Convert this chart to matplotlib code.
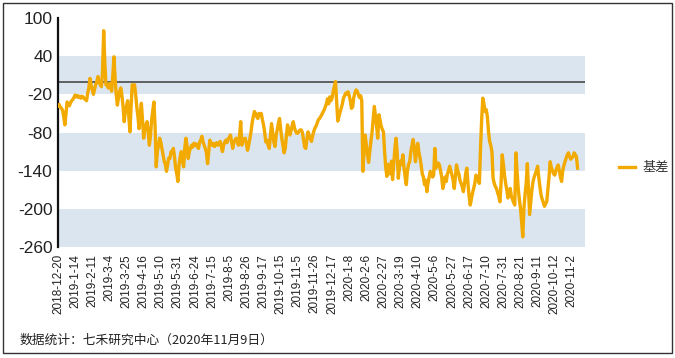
import matplotlib
matplotlib.use("Agg")
import matplotlib.pyplot as plt
from matplotlib.patches import Rectangle

plt.rcParams['font.family'] = ['Liberation Sans', 'Noto Sans CJK SC', 'DejaVu Sans']

tick_labels = ["2018-12-20", "2019-1-14", "2019-2-11", "2019-3-4", "2019-3-25", "2019-4-16",
               "2019-5-10", "2019-5-31", "2019-6-24", "2019-7-15", "2019-8-5", "2019-8-26",
               "2019-9-17", "2019-10-15", "2019-11-5", "2019-11-26", "2019-12-17", "2020-1-8",
               "2020-2-6", "2020-2-27", "2020-3-19", "2020-4-10", "2020-5-6", "2020-5-27",
               "2020-6-17", "2020-7-10", "2020-7-31", "2020-8-21", "2020-9-11", "2020-10-12",
               "2020-11-2"]
tick_step = 15

basis = [
    -38, -36, -40, -42, -45, -55, -68, -50, -32, -36, -38, -33, -30, -28, -25,
    -21, -24, -22, -25, -23, -26, -23, -24, -27, -28, -30, -18, -10, 5, -6,
    -12, -20, -12, -5, 0, 8, -2, -4, -8, 15, 80, 30, -5, -5, -10,
    -3, -8, -15, 10, 39, 5, -20, -37, -25, -15, -10, -22, -40, -63, -45,
    -38, -30, -55, -79, -40, -5, -10, -5, -20, -40, -55, -74, -50, -34, -60,
    -89, -75, -68, -63, -80, -100, -85, -60, -45, -32, -70, -134, -110, -100, -89,
    -95, -105, -115, -125, -130, -141, -130, -120, -121, -110, -112, -105, -118, -136, -145,
    -157, -130, -118, -110, -125, -134, -105, -89, -100, -121, -110, -105, -100, -103, -97,
    -100, -98, -102, -105, -95, -92, -86, -95, -100, -105, -112, -129, -110, -92, -98,
    -100, -97, -102, -99, -96, -100, -98, -94, -102, -110, -100, -95, -92, -96, -90,
    -88, -84, -95, -105, -96, -92, -89, -94, -100, -85, -63, -100, -92, -90, -89,
    -98, -108, -100, -90, -79, -65, -55, -47, -50, -55, -58, -50, -52, -50, -60,
    -68, -80, -95, -92, -100, -105, -85, -66, -80, -95, -102, -85, -76, -65, -58,
    -75, -89, -100, -112, -105, -85, -68, -75, -84, -78, -70, -63, -72, -78, -81,
    -81, -78, -76, -76, -80, -92, -103, -105, -90, -79, -85, -90, -94, -85, -78,
    -73, -70, -65, -60, -58, -55, -52, -48, -45, -40, -35, -27, -35, -24, -30,
    -26, -15, -8, 0, -30, -62, -55, -48, -42, -35, -26, -22, -18, -20, -16,
    -22, -30, -42, -40, -25, -18, -13, -15, -20, -25, -22, -30, -141, -110, -84,
    -100, -115, -127, -110, -94, -80, -60, -39, -55, -70, -89, -52, -60, -70, -75,
    -79, -110, -135, -149, -130, -141, -145, -125, -154, -130, -105, -89, -110, -152, -135,
    -125, -130, -115, -135, -150, -162, -140, -130, -126, -110, -100, -91, -105, -126, -110,
    -97, -110, -120, -131, -145, -150, -162, -155, -173, -160, -150, -141, -145, -150, -147,
    -105, -136, -130, -128, -131, -140, -150, -168, -160, -150, -157, -145, -140, -133, -140,
    -147, -155, -168, -150, -131, -140, -145, -155, -160, -165, -173, -160, -145, -136, -160,
    -180, -194, -185, -175, -168, -160, -147, -150, -155, -160, -105, -60, -26, -35, -47,
    -44, -55, -79, -94, -100, -110, -152, -160, -165, -168, -175, -180, -189, -160, -115,
    -130, -147, -160, -170, -183, -175, -168, -180, -185, -190, -194, -112, -140, -168, -185,
    -199, -220, -244, -200, -178, -160, -129, -170, -209, -190, -170, -157, -150, -145, -140,
    -133, -150, -165, -178, -185, -190, -196, -192, -189, -170, -150, -126, -135, -140, -145,
    -147, -140, -135, -131, -140, -150, -157, -140, -132, -126, -120, -115, -112, -118, -122,
    -120, -118, -112, -115, -118, -136,
]

y_ticks = [100, 40, -20, -80, -140, -200, -260]
bands = [(40, -20), (-80, -140), (-200, -260)]
series_name = "基差"
footer = "数据统计：七禾研究中心（2020年11月9日）"

W, H = 675, 358
fig = plt.figure(figsize=(W / 100, H / 100), dpi=100)
ax = fig.add_axes([58 / W, 1 - 247 / H, (585 - 58) / W, (247 - 18) / H])

for top, bot in bands:
    ax.axhspan(bot, top, color='#DAE5F0', lw=0, zorder=0)
ax.axhline(0, color='#555555', lw=1.3, zorder=1)

x = list(range(len(basis)))
ln, = ax.plot(x, basis, color='#F2A900', lw=2.4, zorder=3, label=series_name)

ax.set_xlim(0, 461.5)
ax.set_ylim(-260, 100)
ax.set_yticks(y_ticks)
ax.set_yticklabels([str(v) for v in y_ticks], fontsize=12.5, color='#222222')
ax.set_xticks([i * tick_step for i in range(len(tick_labels))])
ax.set_xticklabels(tick_labels, rotation=90, fontsize=8.5, color='#222222')
ax.tick_params(axis='both', length=0)
ax.tick_params(axis='y', pad=4)
ax.tick_params(axis='x', pad=5)
for s in ['top', 'right', 'bottom']:
    ax.spines[s].set_visible(False)
ax.spines['left'].set_linewidth(1.6)
ax.spines['left'].set_color('#111111')

leg = fig.legend(handles=[ln], loc='center left', bbox_to_anchor=(619 / W, 1 - 168 / H),
                 frameon=False, handlelength=1.2, handletextpad=0.6, borderpad=0,
                 borderaxespad=0,
                 prop={'family': ['Noto Sans CJK SC', 'DejaVu Sans'], 'size': 9.5})
for t in leg.get_texts():
    t.set_color('#333333')

fig.text(20 / W, 1 - 340 / H, footer, fontsize=9.2, color='#222222', va='center', ha='left',
         family=['Noto Sans CJK SC', 'DejaVu Sans'])

fig.patches.append(Rectangle((3 / W, 1 - 353 / H), (672 - 3) / W, (353 - 3) / H,
                             transform=fig.transFigure, fill=False, ec='#333333', lw=1.0))

fig.savefig('out.png', dpi=100)
